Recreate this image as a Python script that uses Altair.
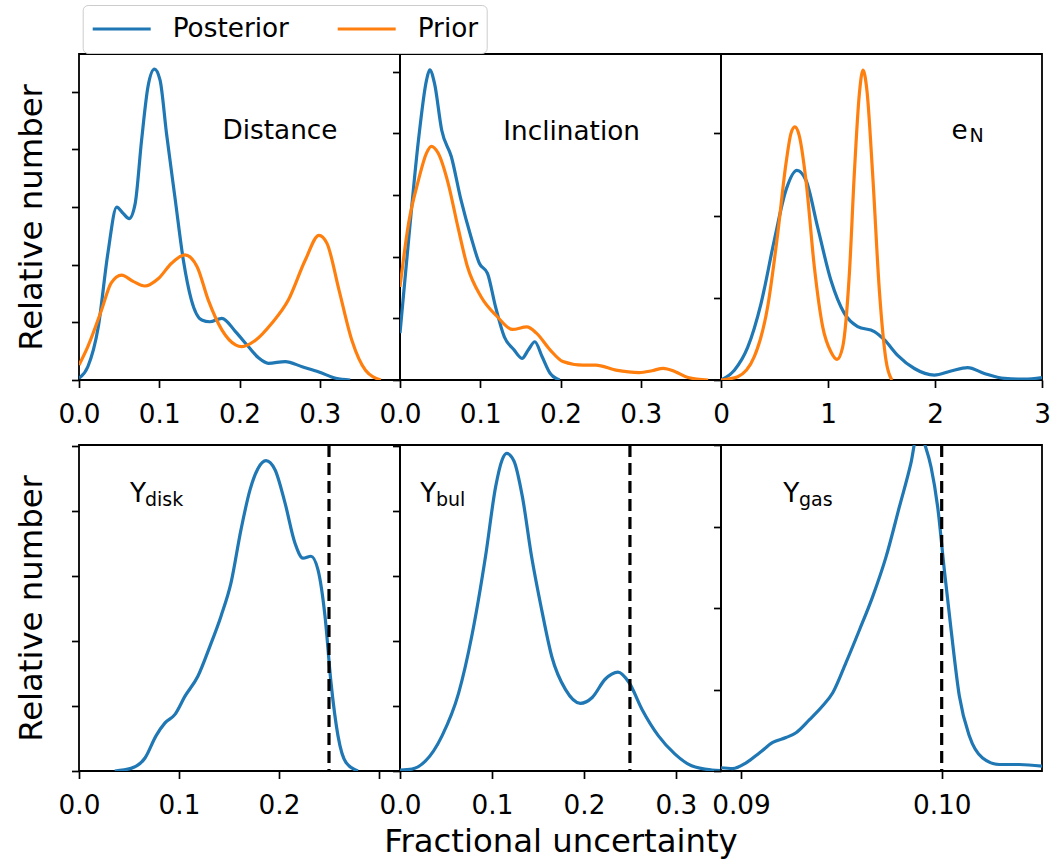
import altair as alt
import pandas as pd

FONT = "DejaVu Sans"
BLUE = "#1f77b4"
ORANGE = "#ff7f0e"
SERIES = ["Posterior", "Prior"]

# ---- Distance ----
dist_post_x = [0.0, 0.011, 0.024, 0.036, 0.047, 0.055, 0.0625, 0.07, 0.078, 0.086, 0.094, 0.101, 0.109,
               0.12, 0.13, 0.14, 0.153, 0.163, 0.178, 0.195, 0.211, 0.224, 0.236, 0.257, 0.278, 0.299, 0.32, 0.338]
dist_post_y = [0.03, 0.23, 0.92, 2.2, 3.0, 2.89, 2.8, 3.06, 4.16, 5.09, 5.39, 5.2, 4.28,
               3.12, 2.08, 1.39, 1.04, 1.01, 1.07, 0.84, 0.58, 0.38, 0.29, 0.32, 0.23, 0.14, 0.03, 0.0]
dist_prior_x = [0.0, 0.011, 0.028, 0.04, 0.053, 0.0675, 0.082, 0.099, 0.115, 0.132, 0.147, 0.161, 0.178,
                0.195, 0.203, 0.22, 0.24, 0.261, 0.282, 0.299, 0.309, 0.324, 0.34, 0.357, 0.376]
dist_prior_y = [0.26, 0.58, 1.21, 1.68, 1.82, 1.71, 1.63, 1.76, 2.02, 2.17, 1.97, 1.39, 0.87,
                0.61, 0.58, 0.69, 0.98, 1.39, 2.08, 2.51, 2.37, 1.56, 0.69, 0.17, 0.0]

# ---- Inclination ----
inc_post_x = [0.0, 0.0107, 0.023, 0.033, 0.037, 0.043, 0.052, 0.064, 0.076, 0.0885, 0.099, 0.109, 0.119,
              0.13, 0.142, 0.152, 0.16, 0.168, 0.177, 0.187, 0.199]
inc_post_y = [0.76, 2.27, 3.89, 4.86, 5.03, 4.81, 4.05, 3.62, 2.92, 2.32, 1.89, 1.73, 1.19,
              0.70, 0.49, 0.35, 0.49, 0.62, 0.38, 0.11, 0.0]
inc_prior_x = [0.0, 0.0107, 0.023, 0.033, 0.039, 0.0475, 0.06, 0.072, 0.084, 0.101, 0.121, 0.14, 0.158,
               0.17, 0.187, 0.203, 0.228, 0.244, 0.269, 0.298, 0.314, 0.328, 0.343, 0.359, 0.384]
inc_prior_y = [1.51, 2.54, 3.24, 3.68, 3.79, 3.68, 3.19, 2.49, 1.84, 1.35, 1.03, 0.82, 0.86,
               0.76, 0.49, 0.30, 0.24, 0.24, 0.16, 0.12, 0.15, 0.19, 0.135, 0.04, 0.0]

# ---- e_N ----
en_post_x = [0.0, 0.125, 0.25, 0.374, 0.498, 0.607, 0.71, 0.794, 0.903, 1.028, 1.153, 1.277, 1.433,
             1.526, 1.651, 1.807, 1.994, 2.15, 2.305, 2.461, 2.648, 2.835, 3.0]
en_post_y = [0.0, 0.12, 0.40, 0.93, 1.70, 2.31, 2.55, 2.43, 1.86, 1.21, 0.81, 0.65, 0.59,
             0.49, 0.30, 0.14, 0.06, 0.11, 0.15, 0.08, 0.02, 0.01, 0.03]
en_prior_x = [0.0, 0.156, 0.31, 0.436, 0.53, 0.607, 0.654, 0.69, 0.73, 0.794, 0.872, 0.95, 1.028, 1.084,
              1.137, 1.2, 1.246, 1.293, 1.327, 1.364, 1.417, 1.48, 1.542, 1.589, 1.6]
en_prior_y = [0.0, 0.04, 0.28, 0.89, 1.78, 2.63, 3.0, 3.08, 2.98, 2.43, 1.38, 0.65, 0.34, 0.25,
              0.40, 1.3, 2.51, 3.48, 3.77, 3.52, 2.51, 1.09, 0.24, 0.02, 0.0]

# ---- Y_disk ----
disk_x = [0.0357, 0.052, 0.066, 0.077, 0.086, 0.096, 0.106, 0.119, 0.131, 0.142, 0.152, 0.162, 0.171,
          0.179, 0.187, 0.196, 0.206, 0.216, 0.224, 0.232, 0.239, 0.246, 0.252, 0.259, 0.267, 0.279]
disk_y = [0.0, 0.04, 0.20, 0.54, 0.74, 0.87, 1.15, 1.46, 1.92, 2.38, 2.89, 3.71, 4.32,
          4.65, 4.77, 4.63, 4.12, 3.50, 3.27, 3.30, 3.09, 2.38, 1.36, 0.54, 0.13, 0.0]

# ---- Y_bul ----
bul_x = [0.0, 0.013, 0.0275, 0.0457, 0.0638, 0.078, 0.093, 0.104, 0.111, 0.116, 0.124, 0.133, 0.143,
         0.154, 0.165, 0.18, 0.196, 0.209, 0.223, 0.237, 0.249, 0.263, 0.281, 0.299, 0.317, 0.339, 0.35]
bul_y = [0.015, 0.03, 0.15, 0.54, 1.2, 2.07, 3.30, 4.37, 4.78, 4.88, 4.76, 4.22, 3.30,
         2.48, 1.76, 1.25, 1.04, 1.13, 1.41, 1.52, 1.36, 0.95, 0.54, 0.26, 0.08, 0.015, 0.005]

# ---- Y_gas ----
gas_x = [0.089, 0.08958, 0.09025, 0.09091, 0.09158, 0.09224, 0.09274, 0.09341, 0.09407, 0.09457,
         0.09523, 0.0959, 0.09656, 0.09723, 0.09789, 0.09847, 0.09885, 0.09914, 0.09947, 0.0998,
         0.10013, 0.10047, 0.10088, 0.10138, 0.10204, 0.10287, 0.10387, 0.10503]
gas_y = [0.04, 0.03, 0.10, 0.22, 0.35, 0.41, 0.47, 0.63, 0.80, 0.96,
         1.33, 1.73, 2.14, 2.63, 3.24, 3.78, 4.22, 4.02, 3.73, 3.24,
         2.47, 1.73, 0.92, 0.43, 0.16, 0.08, 0.08, 0.06]

W, H = 321, 326
SMALL = 26.3
SUB = 19
BIG = 32.3

LEGEND = alt.Legend(
    title=None, orient="none", legendX=3.7, legendY=-49, direction="horizontal",
    symbolType="stroke", symbolSize=3364, symbolStrokeWidth=3.2, clipHeight=32,
    labelFont=FONT, labelFontSize=SMALL, labelColor="black", labelOffset=20,
    columnPadding=46, padding=8, strokeColor="#cccccc", fillColor="white",
    cornerRadius=5,
)


def frame(post_x, post_y, prior_x=None, prior_y=None):
    rows = [{"x": a, "y": b, "series": "Posterior"} for a, b in zip(post_x, post_y)]
    if prior_x is not None:
        rows += [{"x": a, "y": b, "series": "Prior"} for a, b in zip(prior_x, prior_y)]
    return pd.DataFrame(rows)


def panel(df, xdom, xvals, xfmt, ytop, ytitle, xtitle, texts, dash=None, label_expr=None):
    ax_kw = dict(values=xvals, format=xfmt, labelFlush=False, title=xtitle)
    if label_expr:
        ax_kw["labelExpr"] = label_expr
    xax = alt.Axis(**ax_kw)
    xsc = alt.Scale(domain=xdom, nice=False, zero=False)
    yvals = list(range(0, int(ytop) + 1))
    yax = alt.Axis(values=yvals, labels=False, title=ytitle)
    ysc = alt.Scale(domain=[0, ytop], nice=False, zero=True)
    line = alt.Chart(df).mark_line(strokeWidth=3.2, interpolate="monotone", clip=True).encode(
        x=alt.X("x:Q", scale=xsc, axis=xax),
        y=alt.Y("y:Q", scale=ysc, axis=yax),
        color=alt.Color("series:N", scale=alt.Scale(domain=SERIES, range=[BLUE, ORANGE]), legend=LEGEND),
    )
    layers = [line]
    if dash is not None:
        rule = alt.Chart(pd.DataFrame({"x": [dash]})).mark_rule(
            color="black", strokeWidth=3.2, strokeDash=[12, 6]
        ).encode(x=alt.X("x:Q", scale=xsc, axis=xax))
        layers.append(rule)
    for txt, px, py, size in texts:
        layers.append(
            alt.Chart(pd.DataFrame({"t": [txt]})).mark_text(
                align="left", baseline="alphabetic", font=FONT, fontSize=size, color="black"
            ).encode(text="t:N", x=alt.value(px), y=alt.value(py))
        )
    return alt.layer(*layers).properties(width=W, height=H)


p1 = panel(frame(dist_post_x, dist_post_y, dist_prior_x, dist_prior_y), [0, 0.4], [0, 0.1, 0.2, 0.3], ".1f",
           5.654, "Relative number", None, [("Distance", 143.5, 85.3, SMALL)])
p2 = panel(frame(inc_post_x, inc_post_y, inc_prior_x, inc_prior_y), [0, 0.4], [0, 0.1, 0.2, 0.3], ".1f",
           5.287, None, None, [("Inclination", 103.3, 86, SMALL)])
p3 = panel(frame(en_post_x, en_post_y, en_prior_x, en_prior_y), [0, 3], [0, 1, 2, 3], "d",
           3.966, None, None, [("e", 230.5, 84.5, SMALL), ("N", 248.5, 88, SUB)])
p4 = panel(frame(disk_x, disk_y), [0, 0.321], [0, 0.1, 0.2, 0.3], ".1f",
           5.01, "Relative number", None, [("Y", 51, 56.7, SMALL), ("disk", 66, 61, SUB)], dash=0.25,
           label_expr="datum.value > 0.29 ? '' : datum.label")
p5 = panel(frame(bul_x, bul_y), [0, 0.349], [0, 0.1, 0.2, 0.3], ".1f",
           5.01, None, "Fractional uncertainty", [("Y", 20.3, 56.7, SMALL), ("bul", 36, 61, SUB)], dash=0.25)
p6 = panel(frame(gas_x, gas_y), [0.089, 0.105], [0.09, 0.10], ".2f",
           4.0, None, None, [("Y", 62.3, 56.7, SMALL), ("gas", 78, 61, SUB)], dash=0.10)

chart = alt.concat(
    p1, p2, p3, p4, p5, p6, columns=3, spacing={"row": 65, "column": 0}, bounds="flush"
).properties(
    padding={"left": 14, "top": 4, "right": 5, "bottom": 2}
).configure_view(
    stroke="black", strokeWidth=1.8
).configure_axis(
    labelFont=FONT, labelFontSize=SMALL, labelColor="black", tickColor="black", tickWidth=1.7,
    tickSize=7.5, labelPadding=14, titleFont=FONT, titleFontSize=BIG, titleFontWeight="normal",
    titleColor="black", domain=False, grid=False,
).configure_axisX(titlePadding=7).configure_axisY(titlePadding=22)

chart.save("out.html", embed_options={"renderer": "svg", "actions": False})
